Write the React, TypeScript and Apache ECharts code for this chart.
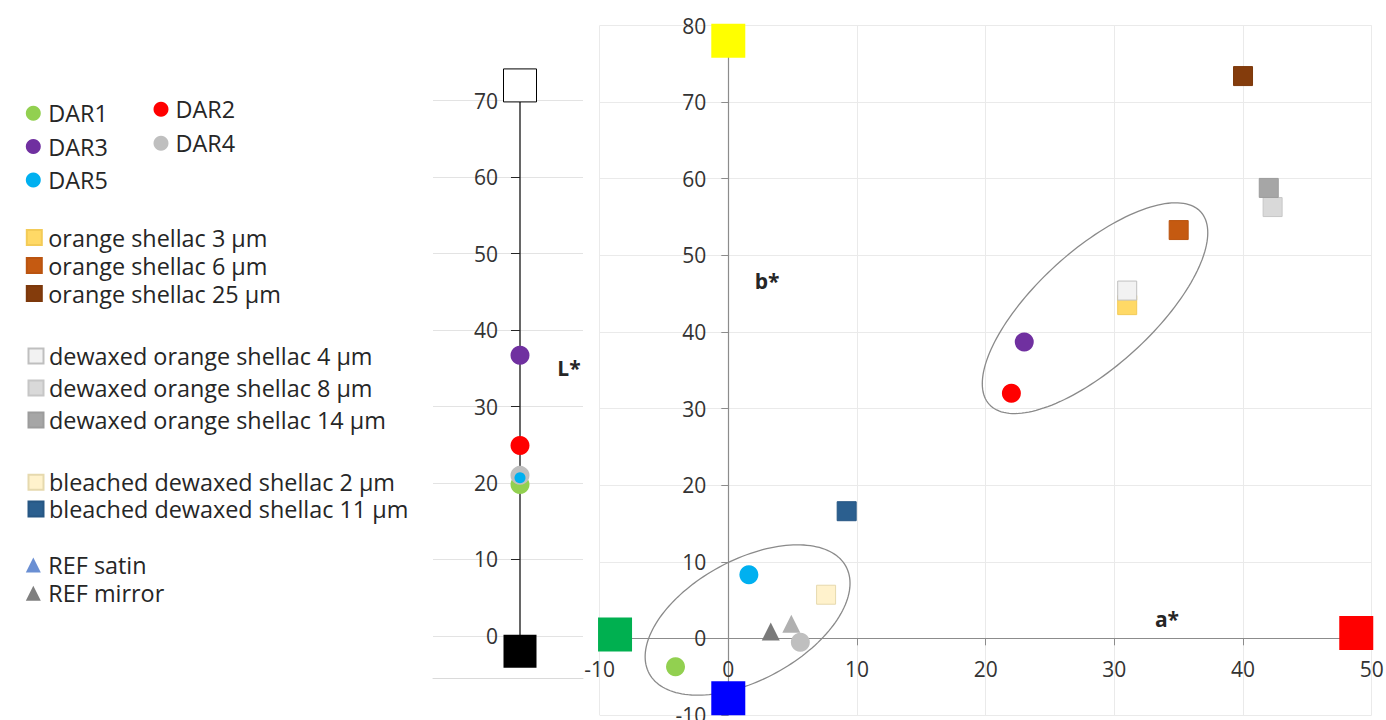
import React, { useEffect, useRef } from 'react';
import * as echarts from 'echarts';

// ---------- DATA ----------
const darNames = ['DAR1', 'DAR2', 'DAR3', 'DAR4', 'DAR5'];
const darA = [-4.1, 22.0, 23.0, 5.6, 1.6];
const darB = [-3.7, 32.0, 38.7, -0.5, 8.3];
const darL = [19.8, 24.9, 36.7, 21.0, 20.7];

const shellacNames = [
  'orange shellac 3 µm',
  'orange shellac 6 µm',
  'orange shellac 25 µm',
  'dewaxed orange shellac 4 µm',
  'dewaxed orange shellac 8 µm',
  'dewaxed orange shellac 14 µm',
  'bleached dewaxed shellac 2 µm',
  'bleached dewaxed shellac 11 µm',
];
const shellacA = [31.0, 35.0, 40.0, 31.0, 42.3, 42.0, 7.6, 9.2];
const shellacB = [43.5, 53.3, 73.4, 45.4, 56.3, 58.8, 5.7, 16.6];

const refNames = ['REF satin', 'REF mirror'];
const refA = [4.9, 3.3];
const refB = [1.9, 0.9];

// colour-space poles: +b (yellow), -a (green), +a (red), -b (blue)
const poleA = [0, -8.8, 48.8, 0];
const poleB = [78.0, 0.5, 0.7, -7.8];
// lightness poles: white, black
const lightPoles = [72.0, -2.0];

// cluster ellipses (centres in a*, b*)
const clusterA = [1.5, 28.5];
const clusterB = [2.4, 43.1];

const aRange = [-10, 50];
const bRange = [-10, 80];
const lRange = [-5.5, 70];
const lTicks = [0, 10, 20, 30, 40, 50, 60, 70];

// ---------- STYLES ----------
const darColors = ['#92D050', '#FF0000', '#7030A0', '#BFBFBF', '#00B0F0'];
const shellacColors = ['#FFD966', '#C55A11', '#843C0C', '#F2F2F2', '#D9D9D9', '#A6A6A6', '#FFF2CC', '#2B5F8F'];
const shellacBorders = ['#F3CB57', '#BA5410', '#7C380B', '#BFBFBF', '#C6C6C6', '#9C9C9C', '#E6D9AE', '#265683'];
const refColors = ['#B0B0B0', '#7A7A7A'];
const refLegendColors = ['#6A8FD3', '#7F7F7F'];
const poleColors = ['#FFFF00', '#00B050', '#FF0000', '#0000FF'];
const ellipseShapes = [
  { rx: 112, ry: 60, angle: 28.6 },
  { rx: 143, ry: 58, angle: 42.3 },
];

const FONT = 'Open Sans';
const textColor = '#333333';

// main grid pixel box and where the zero-crossing axes sit inside it
const MAIN = { left: 599.6, right: 14.3, top: 25.5, bottom: 5 };
const Y_AXIS_SHIFT = 128.7; // px from grid left to a* = 0
const X_AXIS_SHIFT = 76.7; // px from grid bottom to b* = 0
const LGRID = { left: 433, right: 803, top: 100.7, bottom: 42 };
const L_AXIS_SHIFT = 87; // px from L grid left to the stem

const legendGroups = [
  { names: ['DAR1', 'DAR3', 'DAR5'], left: 25.8, top: 101.3, gap: 9.3, pad: 2.5 },
  { names: ['DAR2', 'DAR4'], left: 153.5, top: 97.3, gap: 10, pad: 2 },
  { names: shellacNames.slice(0, 3), left: 25.8, top: 225.5, gap: 4, pad: 1.5 },
  { names: shellacNames.slice(3, 6), left: 27.5, top: 344, gap: 8, pad: 0.5 },
  { names: shellacNames.slice(6, 8), left: 27.5, top: 470.3, gap: 2.7, pad: 0.5 },
  { names: refNames, left: 25.8, top: 553, gap: 4.3, pad: 2.5 },
];

function buildOption(): any {
  const series: any[] = [];

  // ellipses (annotations)
  series.push({
    type: 'custom',
    xAxisIndex: 0,
    yAxisIndex: 0,
    silent: true,
    clip: false,
    z: 1,
    data: clusterA.map((a, i) => [a, clusterB[i]]),
    encode: { x: 0, y: 1 },
    renderItem: (params: any, api: any) => {
      const c = api.coord([api.value(0), api.value(1)]);
      const s = ellipseShapes[params.dataIndex];
      const th = (s.angle * Math.PI) / 180;
      const pts: number[][] = [];
      const n = 160;
      for (let k = 0; k < n; k++) {
        const t = (k / n) * Math.PI * 2;
        const ca = Math.cos(t) * s.rx;
        const sb = Math.sin(t) * s.ry;
        pts.push([c[0] + ca * Math.cos(th) + sb * Math.sin(th), c[1] - ca * Math.sin(th) + sb * Math.cos(th)]);
      }
      return {
        type: 'polygon',
        shape: { points: pts },
        style: { fill: 'transparent', stroke: '#8A8A8A', lineWidth: 1.3 },
      };
    },
  });

  // pole squares on a*b* chart
  series.push({
    type: 'scatter',
    name: 'poles',
    xAxisIndex: 0,
    yAxisIndex: 0,
    clip: false,
    symbol: 'rect',
    symbolSize: 34,
    z: 2,
    data: poleA.map((a, i) => ({ value: [a, poleB[i]], itemStyle: { color: poleColors[i], opacity: 1 } })),
  });

  darNames.forEach((nm, i) => {
    series.push({
      type: 'scatter',
      name: nm,
      xAxisIndex: 0,
      yAxisIndex: 0,
      clip: false,
      symbol: 'circle',
      symbolSize: 19,
      z: 3,
      itemStyle: { color: darColors[i], opacity: 1 },
      data: [[darA[i], darB[i]]],
    });
  });

  shellacNames.forEach((nm, i) => {
    series.push({
      type: 'scatter',
      name: nm,
      xAxisIndex: 0,
      yAxisIndex: 0,
      clip: false,
      symbol: 'rect',
      symbolSize: 19,
      z: 3,
      itemStyle: { color: shellacColors[i], borderColor: shellacBorders[i], borderWidth: 1, opacity: 1 },
      data: [[shellacA[i], shellacB[i]]],
    });
  });

  refNames.forEach((nm, i) => {
    series.push({
      type: 'scatter',
      name: nm,
      xAxisIndex: 0,
      yAxisIndex: 0,
      clip: false,
      symbol: 'triangle',
      symbolSize: 18,
      z: 3,
      itemStyle: { color: refColors[i], opacity: 1 },
      data: [[refA[i], refB[i]]],
    });
  });

  // L* panel: axis stem between black and white poles
  series.push({
    type: 'line',
    name: 'Lstem',
    xAxisIndex: 1,
    yAxisIndex: 1,
    symbol: 'none',
    silent: true,
    z: 1,
    lineStyle: { color: '#262626', width: 1.4 },
    data: [[0, lightPoles[1]], [0, lightPoles[0]]],
  });

  series.push({
    type: 'scatter',
    name: 'Lpoles',
    xAxisIndex: 1,
    yAxisIndex: 1,
    clip: false,
    symbol: 'rect',
    symbolSize: 33,
    z: 2,
    data: [
      { value: [0, lightPoles[0]], itemStyle: { color: '#FFFFFF', borderColor: '#000000', borderWidth: 1, opacity: 1 } },
      { value: [0, lightPoles[1]], itemStyle: { color: '#000000', opacity: 1 } },
    ],
  });

  darNames.forEach((nm, i) => {
    series.push({
      type: 'scatter',
      name: nm,
      xAxisIndex: 1,
      yAxisIndex: 1,
      clip: false,
      symbol: 'circle',
      symbolSize: nm === 'DAR5' ? 11 : 19,
      z: 3,
      itemStyle: { color: darColors[i], opacity: 1 },
      data: [[0, darL[i]]],
    });
  });

  const legends = legendGroups.map((g) => ({
    orient: 'vertical',
    left: g.left,
    top: g.top,
    padding: 0,
    itemGap: g.gap,
    itemWidth: 15,
    itemHeight: 15,
    selectedMode: false,
    textStyle: { fontFamily: FONT, fontSize: 23.4, color: '#262626', lineHeight: 24, padding: [0, 0, 0, g.pad] },
    data: g.names.map((nm) => {
      const ri = refNames.indexOf(nm);
      if (ri >= 0) return { name: nm, itemStyle: { color: refLegendColors[ri], opacity: 1 } };
      return { name: nm };
    }),
  }));

  const axisLabelStyle = { fontFamily: FONT, fontSize: 21, color: textColor };

  return {
    animation: false,
    backgroundColor: '#FFFFFF',
    textStyle: { fontFamily: FONT },
    grid: [
      { ...MAIN, outerBoundsMode: 'none', containLabel: false },
      { ...LGRID, outerBoundsMode: 'none', containLabel: false },
    ],
    xAxis: [
      {
        type: 'value',
        gridIndex: 0,
        position: 'bottom',
        offset: -X_AXIS_SHIFT,
        min: aRange[0],
        max: aRange[1],
        interval: 10,
        axisLine: { show: true, onZero: false, lineStyle: { color: '#8C8C8C', width: 1.2 } },
        axisTick: { show: true, length: 7, inside: false, lineStyle: { color: '#8C8C8C' } },
        axisLabel: { ...axisLabelStyle, margin: 20 },
        splitLine: { show: true, lineStyle: { color: '#EAEAEA', width: 1 } },
      },
      {
        type: 'value',
        gridIndex: 1,
        min: -5.8,
        max: 4.2,
        axisLine: { show: true, onZero: false, lineStyle: { color: '#DADADA', width: 1 } },
        axisTick: { show: false },
        axisLabel: { show: false },
        splitLine: { show: false },
      },
    ],
    yAxis: [
      {
        type: 'value',
        gridIndex: 0,
        position: 'left',
        offset: -Y_AXIS_SHIFT,
        min: bRange[0],
        max: bRange[1],
        interval: 10,
        axisLine: { show: true, onZero: false, lineStyle: { color: '#8C8C8C', width: 1.2 } },
        axisTick: { show: true, length: 7, inside: false, lineStyle: { color: '#8C8C8C' } },
        axisLabel: { ...axisLabelStyle, margin: 22 },
        splitLine: { show: true, lineStyle: { color: '#EAEAEA', width: 1 } },
      },
      {
        type: 'value',
        gridIndex: 1,
        position: 'left',
        offset: -L_AXIS_SHIFT,
        min: lRange[0],
        max: lRange[1],
        axisLine: { show: true, onZero: false, lineStyle: { color: 'rgba(0,0,0,0)', width: 1 } },
        axisTick: { show: true, length: 9, customValues: lTicks, lineStyle: { color: '#262626' } },
        axisLabel: { ...axisLabelStyle, margin: 22, customValues: lTicks },
        splitLine: { show: true, lineStyle: { color: '#E3E3E3', width: 1 } },
      },
    ],
    legend: legends,
    graphic: [
      { type: 'text', x: 1167, y: 619, style: { text: 'a*', font: `bold 21px "${FONT}"`, fill: '#262626', align: 'center', verticalAlign: 'middle' } },
      { type: 'text', x: 767, y: 281, style: { text: 'b*', font: `bold 21px "${FONT}"`, fill: '#262626', align: 'center', verticalAlign: 'middle' } },
      { type: 'text', x: 569, y: 368, style: { text: 'L*', font: `bold 21px "${FONT}"`, fill: '#262626', align: 'center', verticalAlign: 'middle' } },
    ],
    series,
  };
}

export default function App() {
  const ref = useRef<HTMLDivElement>(null);
  useEffect(() => {
    if (!ref.current) return;
    const chart = echarts.init(ref.current, null, { renderer: 'svg' });
    chart.setOption(buildOption());
    return () => chart.dispose();
  }, []);
  return (
    <div
      ref={ref}
      style={{ position: 'absolute', left: 0, top: 0, width: 1386, height: 720, background: '#FFFFFF' }}
    />
  );
}
